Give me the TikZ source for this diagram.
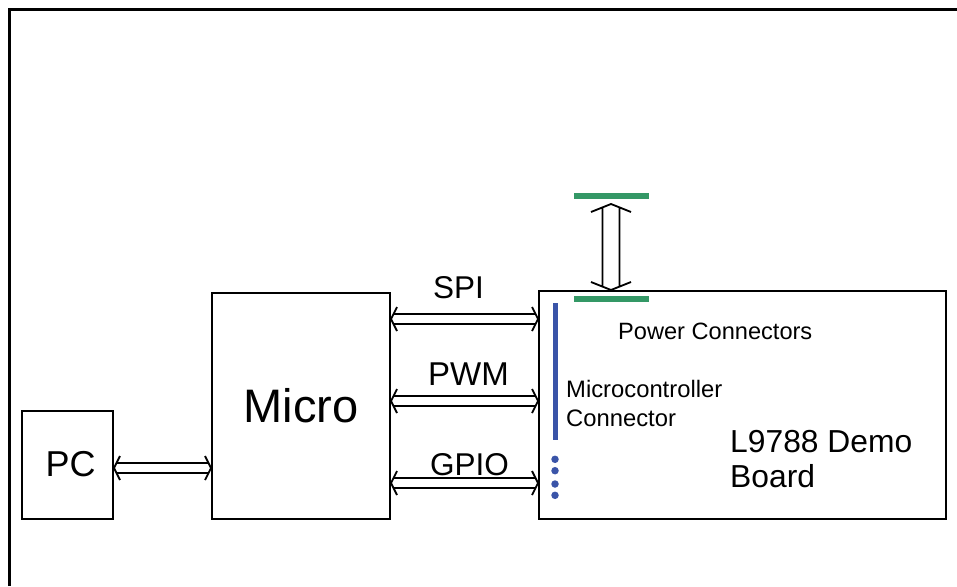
\documentclass[tikz,border=0pt]{standalone}
\usepackage{fontspec}
\setmainfont{Liberation Sans}
\usetikzlibrary{calc}
\definecolor{pgreen}{RGB}{52,152,102}
\definecolor{pblue}{RGB}{58,84,168}
\tikzset{
 box/.style={draw, line width=2pt, inner sep=0pt},
 lbl/.style={anchor=base west, inner sep=0pt},
 bar/.style={fill=#1, draw=none, inner sep=0pt},
 hdbl/.style={line width=1.8pt, line join=miter, to path={
   ($($(\tikztostart)!2.5pt!(\tikztotarget)$)!5pt!90:(\tikztotarget)$) -- ($($(\tikztotarget)!2.5pt!(\tikztostart)$)!5pt!-90:(\tikztostart)$)
   ($($(\tikztostart)!2.5pt!(\tikztotarget)$)!5pt!-90:(\tikztotarget)$) -- ($($(\tikztotarget)!2.5pt!(\tikztostart)$)!5pt!90:(\tikztostart)$)
   ($($(\tikztostart)!6pt!(\tikztotarget)$)!12pt!90:(\tikztotarget)$) -- (\tikztostart) -- ($($(\tikztostart)!6pt!(\tikztotarget)$)!12pt!-90:(\tikztotarget)$)
   ($($(\tikztotarget)!6pt!(\tikztostart)$)!12pt!90:(\tikztostart)$) -- (\tikztotarget) -- ($($(\tikztotarget)!6pt!(\tikztostart)$)!12pt!-90:(\tikztostart)$)
 }},
 vdbl/.style={line width=1.8pt, line join=miter, to path={
   ($($(\tikztostart)!3.4pt!(\tikztotarget)$)!8.5pt!90:(\tikztotarget)$) -- ($($(\tikztotarget)!3.4pt!(\tikztostart)$)!8.5pt!-90:(\tikztostart)$)
   ($($(\tikztostart)!3.4pt!(\tikztotarget)$)!8.5pt!-90:(\tikztotarget)$) -- ($($(\tikztotarget)!3.4pt!(\tikztostart)$)!8.5pt!90:(\tikztostart)$)
   ($($(\tikztostart)!8pt!(\tikztotarget)$)!20pt!90:(\tikztotarget)$) -- (\tikztostart) -- ($($(\tikztostart)!8pt!(\tikztotarget)$)!20pt!-90:(\tikztotarget)$)
   ($($(\tikztotarget)!8pt!(\tikztostart)$)!20pt!90:(\tikztostart)$) -- (\tikztotarget) -- ($($(\tikztotarget)!8pt!(\tikztostart)$)!20pt!-90:(\tikztostart)$)
 }},
}
\begin{document}
\begin{tikzpicture}[x=1pt,y=-1pt]
\useasboundingbox (0,0) rectangle (957,586);
\draw[line width=2.5pt] (9.5,586) -- (9.5,9.5) -- (957,9.5);

% boxes
\node[box, minimum width=91pt, minimum height=108pt] (pc) at (67.5,465) {};
\node[lbl, font=\fontsize{36}{40}\selectfont] (pclbl) at (45.5,476) {PC};
\node[box, minimum width=178pt, minimum height=226pt, font=\fontsize{47}{54}\selectfont] (micro) at (301,406) {Micro};
\node[box, minimum width=407pt, minimum height=228pt] (board) at (742.5,405) {};

% connector bars
\node[bar=pgreen, minimum width=75pt, minimum height=6pt] (pwrtop) at (611.5,196) {};
\node[bar=pgreen, minimum width=75pt, minimum height=6pt] (pwrbot) at (611.5,299) {};
\node[bar=pblue, minimum width=5pt, minimum height=137pt] (mcbar) at (555,371.5) {};
\foreach \yy/\nm in {459.3/d1,470.7/d2,484/d3,495.3/d4}
  \node[bar=pblue, circle, minimum size=7.5pt] (\nm) at (555,\yy) {};

% labels
\node[lbl, font=\fontsize{31.5}{36}\selectfont] (spi) at (433,298) {SPI};
\node[lbl, font=\fontsize{33}{36}\selectfont] (pwm) at (428,385) {PWM};
\node[lbl, font=\fontsize{31.5}{36}\selectfont] (gpio) at (430,475) {GPIO};
\node[lbl, font=\fontsize{23.6}{27}\selectfont] (pwrlbl) at (618,339) {Power Connectors};
\node[lbl, font=\fontsize{23.8}{27}\selectfont] (mclbl1) at (566,397) {Microcontroller};
\node[lbl, font=\fontsize{23.8}{27}\selectfont] (mclbl2) at (566,426) {Connector};
\node[lbl, font=\fontsize{31.8}{36}\selectfont] (bl1) at (730,452) {L9788 Demo};
\node[lbl, font=\fontsize{31.8}{36}\selectfont] (bl2) at (730,487) {Board};

% arrow end points
\coordinate (pcR) at (pc.east |- 0,468);
\coordinate (mcL) at (micro.west |- 0,468);
\coordinate (spiL) at (micro.east |- 0,319);
\coordinate (spiR) at (board.west |- 0,319);
\coordinate (pwmL) at (micro.east |- 0,401);
\coordinate (pwmR) at (board.west |- 0,401);
\coordinate (gpioL) at (micro.east |- 0,483);
\coordinate (gpioR) at (board.west |- 0,483);
\coordinate (pwrB) at (611,290);
\coordinate (pwrT) at (611,204);

\draw[hdbl] (pcR) to (mcL);
\draw[hdbl] (spiL) to (spiR);
\draw[hdbl] (pwmL) to (pwmR);
\draw[hdbl] (gpioL) to (gpioR);
\draw[vdbl] (pwrB) to (pwrT);
\end{tikzpicture}
\end{document}
